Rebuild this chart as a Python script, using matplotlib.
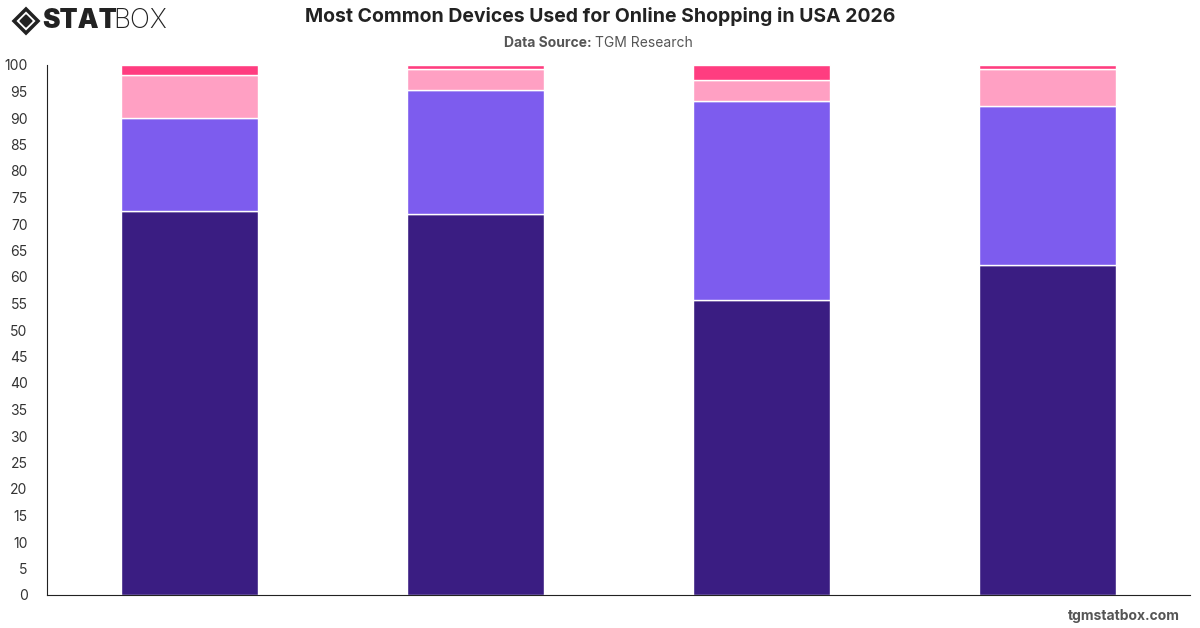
import matplotlib
matplotlib.use("Agg")
import matplotlib.pyplot as plt
import numpy as np
from matplotlib.patches import Polygon

plt.rcParams['font.family'] = ['Inter', 'DejaVu Sans']

categories = ["Group A", "Group B", "Group C", "Group D"]
series_names = ["Smartphone", "Laptop / Desktop", "Tablet", "Other"]
smartphone = [72.5, 71.9, 55.7, 62.3]
laptop = [17.5, 23.4, 37.5, 29.9]
tablet = [8.1, 3.9, 4.0, 7.0]
other = [1.9, 0.8, 2.8, 0.8]
series = [smartphone, laptop, tablet, other]
colors = ["#3a1d82", "#7d5cee", "#ffa0c3", "#ff3d80"]
yticks = list(range(0, 101, 5))

fig = plt.figure(figsize=(12, 6.28), dpi=100)
ax = fig.add_axes([47/1200, 1-595/628, (1190-47)/1200, (595-65)/628])

x = np.arange(len(categories))
bottom = np.zeros(len(categories))
for vals, col, name in zip(series, colors, series_names):
    ax.bar(x, vals, width=0.48, bottom=bottom, color=col, edgecolor="white",
           linewidth=1.0, label=name, zorder=2)
    bottom += np.array(vals)

ax.set_xlim(-0.5, len(categories) - 0.5)
ax.set_ylim(0, 100)
ax.set_yticks(yticks)
ax.set_yticklabels([str(t) for t in yticks], fontsize=10, color="#333333")
ax.set_xticks([])
ax.tick_params(axis="y", length=0, pad=14)
for s in ["top", "right"]:
    ax.spines[s].set_visible(False)
ax.spines["left"].set_color("#222222")
ax.spines["bottom"].set_color("#222222")

fig.text(0.5, 1-17/628, "Most Common Devices Used for Online Shopping in USA 2026",
         ha="center", va="center", fontsize=14, fontweight="bold", color="#222222")
fig.text(0.496, 1-43/628, "Data Source: ", ha="right", va="center",
         fontsize=10, fontweight="bold", color="#555555")
fig.text(0.496, 1-43/628, "TGM Research", ha="left", va="center",
         fontsize=10, color="#555555")

fig.text(1180/1200, 1-616/628, "tgmstatbox.com", ha="right", va="center",
         fontsize=10, fontweight="bold", color="#555555")

# logo
fig.text(42/1200, 1-21/628, "STAT", ha="left", va="center", fontsize=19,
         fontweight="black", color="#222222")
fig.text(113/1200, 1-21/628, "BOX", ha="left", va="center", fontsize=19,
         fontweight="light", color="#222222")
cx, cy = 26, 21
outer = [(cx-12, cy), (cx, cy-12), (cx+12, cy), (cx, cy+12)]
inner = [(cx-6, cy), (cx, cy-6), (cx+6, cy), (cx, cy+6)]
fig.patches.append(Polygon([(px/1200, 1-py/628) for px, py in outer], closed=True,
                           facecolor="none", edgecolor="#222222", linewidth=2.5,
                           transform=fig.transFigure, figure=fig))
fig.patches.append(Polygon([(px/1200, 1-py/628) for px, py in inner], closed=True,
                           facecolor="#222222", edgecolor="#222222",
                           transform=fig.transFigure, figure=fig))

fig.savefig("out.png", dpi=100, facecolor="white")
